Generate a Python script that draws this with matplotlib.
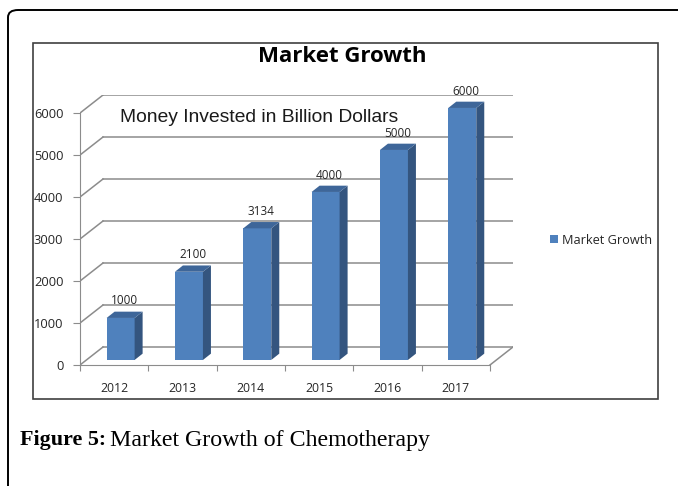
import matplotlib.pyplot as plt
from matplotlib.patches import Polygon, Rectangle, FancyBboxPatch

W, H = 678, 486

years = ['2012', '2013', '2014', '2015', '2016', '2017']
values = [1000, 2100, 3134, 4000, 5000, 6000]
y_ticks = [0, 1000, 2000, 3000, 4000, 5000, 6000]

front = '#4F81BD'
side = '#34557F'
top = '#3E6699'
grid = '#8C8C8C'

# depth of the fake 3d box in data units
DX = 0.337
DY = 429
f = 0.28          # where the bars sit inside the depth
bw = 0.41
bdx = 0.117
bdy = 150


def fx(x):
    return x / W


def fy(y):
    return 1 - y / H


fig = plt.figure(figsize=(W / 100, H / 100), dpi=100)

# outer rounded border and chart frame
fig.patches.append(FancyBboxPatch((fx(8), fy(520)), fx(700), fy(10) - fy(520),
                                  boxstyle='round,pad=0,rounding_size=0.015',
                                  transform=fig.transFigure, fill=False,
                                  ec='black', lw=1.4))
fig.patches.append(Rectangle((fx(33), fy(399)), fx(658) - fx(33), fy(43) - fy(399),
                             transform=fig.transFigure, fill=False,
                             ec='#404040', lw=1.2))

ax = fig.add_axes([fx(80), fy(365), fx(433), 270 / H])
ax.set_xlim(-0.5, 5.5 + DX)
ax.set_ylim(0, 6000 + DY)
ax.patch.set_alpha(0)

x = list(range(len(years)))

# walls: back gridlines, left wall diagonals, floor diagonal
for v in y_ticks:
    ax.plot([-0.5 + DX, 5.5 + DX], [v + DY, v + DY], color=grid, lw=1.1, zorder=1)
    ax.plot([-0.5, -0.5 + DX], [v, v + DY], color=grid, lw=1.1, zorder=1)
ax.plot([5.5, 5.5 + DX], [0, DY], color=grid, lw=1.1, zorder=1)

# bars
xf = [i + f * DX for i in x]
ax.bar(xf, values, bw, bottom=f * DY, color=front, zorder=3, label='Market Growth')
for xi, v in zip(xf, values):
    b = f * DY
    r = xi + bw / 2
    l = xi - bw / 2
    ax.add_patch(Polygon([(r, b), (r + bdx, b + bdy), (r + bdx, b + v + bdy), (r, b + v)],
                         closed=True, fc=side, ec='none', zorder=3))
    ax.add_patch(Polygon([(l, b + v), (r, b + v), (r + bdx, b + v + bdy), (l + bdx, b + v + bdy)],
                         closed=True, fc=top, ec='none', zorder=3))
    ax.annotate(str(v), (xi + bdx / 2, b + v + bdy), xytext=(0, 3),
                textcoords='offset points', ha='center', va='bottom',
                fontsize=8.5, family='Open Sans', color='#262626', zorder=4)

# axes
for s in ['top', 'right']:
    ax.spines[s].set_visible(False)
ax.spines['left'].set_bounds(0, 6000)
ax.spines['bottom'].set_bounds(-0.5, 5.5)
ax.spines['left'].set_color(grid)
ax.spines['bottom'].set_color(grid)
ax.set_yticks(y_ticks)
ax.set_yticklabels([str(v) for v in y_ticks], family='Open Sans', fontsize=9.3, color='#262626')
ax.tick_params(axis='y', length=5, color=grid, pad=7)
ax.set_xticks([i - 0.5 for i in range(len(years) + 1)])
ax.set_xticklabels([])
ax.set_xticks(x, minor=True)
ax.set_xticklabels(years, minor=True, family='Open Sans', fontsize=8.8, color='#262626')
ax.tick_params(axis='x', which='major', length=4, color=grid)
ax.tick_params(axis='x', which='minor', length=0, pad=12)

fig.text(fx(120), fy(117), 'Money Invested in Billion Dollars', family='Liberation Sans',
         fontsize=13.9, color='#1a1a1a', va='center', ha='left')

fig.text(fx(342), fy(56), 'Market Growth', ha='center', va='center',
         family='Open Sans', weight='bold', fontsize=16, color='black')

fig.legend(loc='center left', bbox_to_anchor=(fx(538), fy(240)), frameon=False,
           prop={'family': 'Open Sans', 'size': 9.2}, handlelength=0.7, handleheight=0.7,
           handletextpad=0.3, labelcolor='#262626')

fig.text(fx(20), fy(440), 'Figure 5:', family='Liberation Serif', weight='bold',
         fontsize=15.8, va='center', ha='left')
fig.text(fx(110), fy(440), 'Market Growth of Chemotherapy', family='Liberation Serif',
         fontsize=17.2, va='center', ha='left')

plt.savefig('out.png', dpi=100)
